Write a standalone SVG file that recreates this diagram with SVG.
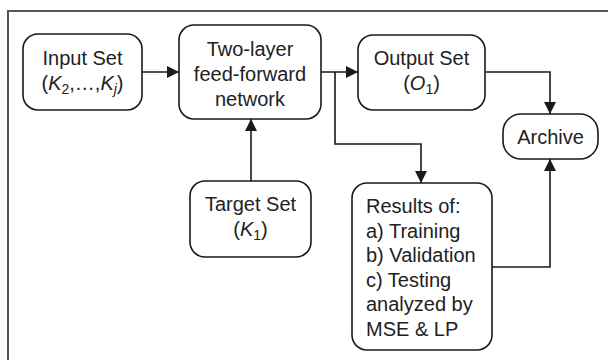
<svg xmlns="http://www.w3.org/2000/svg" width="608" height="360" viewBox="0 0 608 360">
  <style>
    .box { fill: #ffffff; stroke: #1a1a1a; stroke-width: 1.6; }
    .lbl { font-family: "Liberation Sans", Arial, sans-serif; font-size: 20px; fill: #222222; }
    .mid { text-anchor: middle; }
    .it { font-style: italic; }
    .sub { font-size: 14px; }
    .wire { fill: none; stroke: #1a1a1a; stroke-width: 1.6; }
  </style>
  <defs>
    <marker id="arrow" viewBox="0 0 12 12" refX="12" refY="6" markerWidth="12" markerHeight="12" markerUnits="userSpaceOnUse" orient="auto">
      <path d="M0,0 L12,6 L0,12 Z" fill="#1a1a1a"/>
    </marker>
  </defs>

  <rect width="608" height="360" fill="#ffffff"/>
  <!-- outer frame (top and left edges) -->
  <path d="M8,360 V11 H608" fill="none" stroke="#555555" stroke-width="2"/>

  <g id="connectors">
    <path class="wire" d="M142,72 H179" marker-end="url(#arrow)"/>
    <path class="wire" d="M321,72 H358" marker-end="url(#arrow)"/>
    <path class="wire" d="M335,72 V144 H421 V183" marker-end="url(#arrow)"/>
    <path class="wire" d="M485,72 H550 V114" marker-end="url(#arrow)"/>
    <path class="wire" d="M492,267 H550 V159" marker-end="url(#arrow)"/>
    <path class="wire" d="M251,181 V119" marker-end="url(#arrow)"/>
  </g>

  <g id="input-set">
    <rect class="box" x="23" y="34" width="119" height="76" rx="15"/>
    <text class="lbl mid" x="82.5" y="65">Input Set</text>
    <text class="lbl mid" x="82.5" y="90">(<tspan class="it">K</tspan><tspan class="sub" dy="4">2</tspan><tspan dy="-4">,…,</tspan><tspan class="it">K</tspan><tspan class="sub it" dy="4">j</tspan><tspan dy="-4">)</tspan></text>
  </g>

  <g id="network">
    <rect class="box" x="179" y="25" width="142" height="94" rx="15"/>
    <text class="lbl mid" x="250" y="56">Two-layer</text>
    <text class="lbl mid" x="250" y="81">feed-forward</text>
    <text class="lbl mid" x="250" y="106">network</text>
  </g>

  <g id="output-set">
    <rect class="box" x="358" y="35" width="127" height="75" rx="15"/>
    <text class="lbl mid" x="421.5" y="65">Output Set</text>
    <text class="lbl mid" x="421.5" y="90">(<tspan class="it">O</tspan><tspan class="sub" dy="4">1</tspan><tspan dy="-4">)</tspan></text>
  </g>

  <g id="archive">
    <rect class="box" x="503" y="114" width="95" height="45" rx="18"/>
    <text class="lbl mid" x="550.5" y="143.5">Archive</text>
  </g>

  <g id="target-set">
    <rect class="box" x="190" y="181" width="121" height="76" rx="15"/>
    <text class="lbl mid" x="250.5" y="211">Target Set</text>
    <text class="lbl mid" x="250.5" y="236">(<tspan class="it">K</tspan><tspan class="sub" dy="4">1</tspan><tspan dy="-4">)</tspan></text>
  </g>

  <g id="results">
    <rect class="box" x="352" y="183" width="140" height="167" rx="15"/>
    <text class="lbl" x="366" y="213">Results of:</text>
    <text class="lbl" x="366" y="237.6">a) Training</text>
    <text class="lbl" x="366" y="262.2">b) Validation</text>
    <text class="lbl" x="366" y="286.8">c) Testing</text>
    <text class="lbl" x="366" y="311.4">analyzed by</text>
    <text class="lbl" x="366" y="336">MSE &amp; LP</text>
  </g>
</svg>
